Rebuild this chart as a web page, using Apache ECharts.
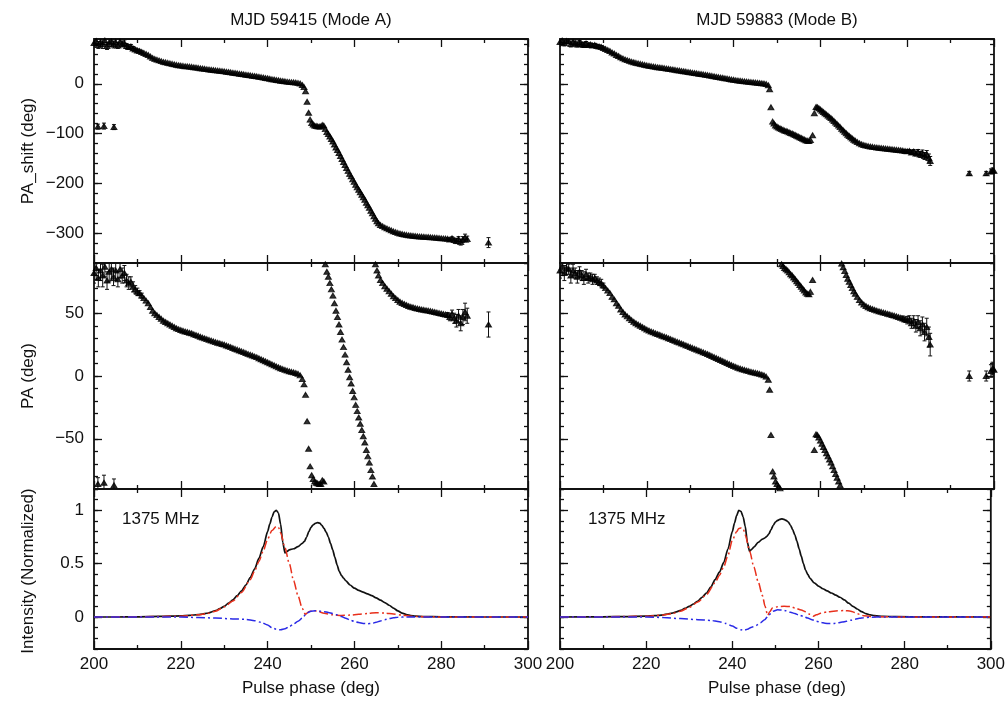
<!DOCTYPE html>
<html>
<head>
<meta charset="utf-8">
<script src="https://cdn.jsdelivr.net/npm/echarts@6/dist/echarts.min.js"></script>
<style>
  html, body { margin: 0; padding: 0; background: #fff; }
  #chart { width: 1008px; height: 706px; }
</style>
</head>
<body>
<div id="chart"></div>
<script>
// ---------------------------------------------------------------------------
// Text
// ---------------------------------------------------------------------------
const columnTitles = ['MJD 59415 (Mode A)', 'MJD 59883 (Mode B)'];
const rowTitles = ['PA_shift (deg)', 'PA (deg)', 'Intensity (Normalized)'];
const xTitle = 'Pulse phase (deg)';
const freqLabel = '1375 MHz';

// Tick values
const phaseRange = [200, 300];
const shiftTicks = [-300, -200, -100, 0];
const paTicks = [-50, 0, 50];
const intensityTicks = [0, 0.5, 1];

// ---------------------------------------------------------------------------
// Position angle (unwrapped, "PA_shift"), rows: [phase, PA_shift, error]
// ---------------------------------------------------------------------------
const shiftModeA = [
  [200, 82, 8], [200.5, 86, 9], [201, 78, 7], [201.5, 84, 8], [202, 80, 9], [202.5, 87, 8],
  [203, 76, 7], [203.5, 83, 8], [204, 85, 9], [204.5, 79, 7], [205, 84, 8], [205.5, 77, 6],
  [206, 85, 7], [206.5, 80, 6], [207, 82, 6], [207.5, 76, 5], [208, 74, 5], [208.5, 75, 4],
  [209, 71, 4], [209.5, 69, 3], [210, 67, 3], [210.5, 66, 2], [211, 64, 2], [211.5, 62],
  [212, 60], [212.5, 58], [213, 55], [213.5, 52], [214, 50], [214.5, 48.5], [215, 47],
  [215.5, 45.5], [216, 44], [216.5, 43], [217, 42], [217.5, 41], [218, 40], [218.5, 39],
  [219, 38], [219.5, 37.3], [220, 36.6], [220.5, 36], [221, 35.4], [221.5, 35], [222, 34.5],
  [222.5, 34], [223, 33.3], [223.5, 32.6], [224, 32], [224.5, 31.3], [225, 30.6], [225.5, 30],
  [226, 29.4], [226.5, 28.8], [227, 28.2], [227.5, 27.6], [228, 27], [228.5, 26.5], [229, 26],
  [229.5, 25.5], [230, 25], [230.5, 24.3], [231, 23.6], [231.5, 23], [232, 22.3], [232.5, 21.6],
  [233, 21], [233.5, 20.3], [234, 19.6], [234.5, 19], [235, 18.3], [235.5, 17.6], [236, 17],
  [236.5, 16.3], [237, 15.6], [237.5, 15], [238, 14.2], [238.5, 13.4], [239, 12.6], [239.5, 11.8],
  [240, 11], [240.5, 10.2], [241, 9.3], [241.5, 8.5], [242, 7.7], [242.5, 7], [243, 6.2],
  [243.5, 5.5], [244, 4.9], [244.5, 4.3], [245, 3.8], [245.5, 3.3], [246, 2.9], [246.5, 2.4],
  [247, 1.8], [247.5, 0.5], [248, -2.5],
  [248.4, -6.7], [248.75, -15], [249.1, -36], [249.45, -58], [249.8, -72], [250.15, -79],
  [250.5, -82], [250.85, -84], [251.2, -85], [251.55, -85.5], [251.9, -86], [252.25, -86],
  [252.6, -83], [252.95, -84], [253.3, -91], [253.65, -97], [254.0, -101], [254.35, -106],
  [254.7, -111], [255.05, -116], [255.4, -122], [255.75, -128], [256.1, -133], [256.45, -139],
  [256.8, -145], [257.15, -151], [257.5, -157], [257.85, -163], [258.2, -169], [258.55, -175],
  [258.9, -181], [259.25, -186], [259.6, -192], [259.95, -197], [260.3, -203], [260.65, -208],
  [261.0, -213], [261.35, -218], [261.7, -223], [262.05, -228], [262.4, -233], [262.75, -239],
  [263.1, -244], [263.45, -249], [263.8, -255], [264.15, -260], [264.5, -266], [264.85, -271],
  [265.2, -276], [265.55, -280],
  [266, -283.5], [266.5, -286], [267, -288.5], [267.5, -290.5], [268, -292.5], [268.5, -294.5],
  [269, -296.5], [269.5, -298], [270, -299.5], [270.5, -300.8], [271, -301.8], [271.5, -302.7],
  [272, -303.5], [272.5, -304.2], [273, -304.8], [273.5, -305.3], [274, -305.8], [274.5, -306.2],
  [275, -306.6], [275.5, -307], [276, -307.3], [276.5, -307.6], [277, -307.9], [277.5, -308.2],
  [278, -308.6], [278.5, -309], [279, -309.4], [279.5, -309.8], [280, -310.2], [280.5, -310.6],
  [281, -311], [281.5, -311.5, 2], [282, -313, 3], [282.5, -310.5, 3], [283, -314, 4],
  [283.5, -316, 5], [284, -312, 5], [284.5, -318, 6], [285, -313, 6], [285.5, -309, 7],
  [286, -312, 6], [290.9, -319, 10],
  // orthogonal-mode points at the leading edge
  [200.9, -86, 5], [202.3, -85, 6], [204.6, -87, 5]
];

const shiftModeB = [
  [200, 84, 6], [200.5, 87, 5], [201, 82, 6], [201.5, 86, 5], [202, 85, 4], [202.5, 80, 6],
  [203, 84, 5], [203.5, 82, 4], [204, 79, 5], [204.5, 83, 4], [205, 80, 4], [205.5, 78, 5],
  [206, 81, 4], [206.5, 78, 4], [207, 79, 3], [207.5, 77, 4], [208, 78, 3], [208.5, 76, 3],
  [209, 75, 3], [209.5, 74, 3], [210, 72, 2], [210.5, 70], [211, 68], [211.5, 66], [212, 63],
  [212.5, 61], [213, 58], [213.5, 56], [214, 53], [214.5, 51], [215, 49], [215.5, 47.5],
  [216, 46], [216.5, 44.5], [217, 43.2], [217.5, 42], [218, 41], [218.5, 40], [219, 39],
  [219.5, 38], [220, 37], [220.5, 36.2], [221, 35.5], [221.5, 34.8], [222, 34], [222.5, 33.4],
  [223, 32.8], [223.5, 32.1], [224, 31.5], [224.5, 30.8], [225, 30.1], [225.5, 29.4], [226, 28.7],
  [226.5, 28], [227, 27.3], [227.5, 26.6], [228, 25.9], [228.5, 25.2], [229, 24.5], [229.5, 23.8],
  [230, 23.1], [230.5, 22.4], [231, 21.7], [231.5, 21], [232, 20.3], [232.5, 19.6], [233, 18.9],
  [233.5, 18.2], [234, 17.5], [234.5, 16.7], [235, 15.9], [235.5, 15.1], [236, 14.3], [236.5, 13.5],
  [237, 12.7], [237.5, 12], [238, 11.2], [238.5, 10.4], [239, 9.6], [239.5, 8.8], [240, 8],
  [240.5, 7.3], [241, 6.6], [241.5, 6], [242, 5.4], [242.5, 4.9], [243, 4.4], [243.5, 3.9],
  [244, 3.4], [244.5, 3], [245, 2.6], [245.5, 2.2], [246, 1.7], [246.5, 1.2], [247, 0.6],
  [247.5, -0.5], [248, -3],
  [248.3, -11], [248.6, -47], [249.0, -76], [249.3, -80], [249.65, -84], [250.0, -86],
  [250.35, -88], [250.7, -89.5], [251.05, -91], [251.4, -92.5], [251.75, -94], [252.1, -95],
  [252.45, -96], [252.8, -97.5], [253.15, -99], [253.5, -100], [253.85, -101.5], [254.2, -103],
  [254.55, -104.5], [254.9, -106], [255.25, -107.5], [255.6, -109], [255.95, -110.5], [256.3, -112],
  [256.65, -113.5], [257.0, -114.5], [257.35, -115], [257.7, -113], [258.2, -103.5], [258.6, -59],
  [259.0, -46.5], [259.3, -47], [259.65, -49], [260.0, -51.5], [260.35, -54], [260.7, -56.5],
  [261.05, -59], [261.4, -61.5], [261.75, -64], [262.1, -66.5], [262.45, -69], [262.8, -72],
  [263.15, -75], [263.5, -78], [263.85, -81], [264.2, -84], [264.55, -87], [264.9, -90.5],
  [265.25, -93.5], [265.6, -96.5], [265.95, -99.5], [266.3, -102.5], [266.65, -105], [267.0, -107.5],
  [267.35, -110], [267.7, -112.5], [268.05, -114.5],
  [268.5, -117], [269, -119.5], [269.5, -121.5], [270, -123], [270.5, -124.2], [271, -125.2],
  [271.5, -126], [272, -126.7], [272.5, -127.3], [273, -127.9], [273.5, -128.4], [274, -128.9],
  [274.5, -129.4], [275, -129.9], [275.5, -130.4], [276, -130.9], [276.5, -131.4], [277, -131.9],
  [277.5, -132.4], [278, -133], [278.5, -133.6], [279, -134.2, 2], [279.5, -135, 2], [280, -135.5, 3],
  [280.5, -135, 3], [281, -138, 4], [281.5, -136, 4], [282, -140, 5], [282.5, -137, 5],
  [283, -142, 6], [283.5, -139, 6], [284, -145, 7], [284.5, -141, 7], [285, -149, 8],
  [285.3, -155, 9],
  [294.3, -180, 4], [298.2, -180, 4], [299.3, -176, 5], [299.7, -174, 5], [300, -175, 4]
];

// ---------------------------------------------------------------------------
// Normalised profiles, rows: [phase, value]
// ---------------------------------------------------------------------------
const totalModeA = [
  [200, 0], [205, 0], [210, 0.002], [215, 0.005], [220, 0.01], [222, 0.015], [224, 0.022],
  [225, 0.027], [226, 0.035], [227, 0.046], [228, 0.06], [229, 0.078], [230, 0.1], [231, 0.13],
  [232, 0.16], [233, 0.2], [234, 0.245], [235, 0.3], [236, 0.37], [237, 0.45], [238, 0.55],
  [239, 0.66], [240, 0.8], [240.5, 0.87], [241, 0.935], [241.5, 0.985], [242, 1.0], [242.5, 0.975],
  [243, 0.87], [243.5, 0.7], [244, 0.6], [244.5, 0.615], [245, 0.63], [246, 0.64], [247, 0.66],
  [248, 0.69], [248.5, 0.71], [249, 0.75], [249.5, 0.8], [250, 0.84], [250.5, 0.865], [251, 0.878],
  [251.5, 0.885], [252, 0.88], [252.5, 0.86], [253, 0.83], [253.5, 0.795], [254, 0.75], [254.5, 0.69],
  [255, 0.63], [255.5, 0.56], [256, 0.49], [256.5, 0.43], [257, 0.39], [257.5, 0.365], [258, 0.34],
  [259, 0.3], [260, 0.27], [261, 0.25], [262, 0.233], [263, 0.217], [264, 0.2], [265, 0.18],
  [266, 0.158], [267, 0.135], [268, 0.11], [269, 0.083], [270, 0.058], [271, 0.037], [272, 0.022],
  [273, 0.013], [274, 0.008], [276, 0.004], [280, 0.002], [290, 0], [300, 0]
];
const linearModeA = [
  [200, 0], [210, 0.002], [220, 0.008], [224, 0.02], [226, 0.032], [228, 0.055], [230, 0.095],
  [232, 0.15], [234, 0.23], [236, 0.35], [237, 0.43], [238, 0.52], [239, 0.62], [240, 0.73],
  [241, 0.81], [242, 0.85], [242.5, 0.84], [243, 0.79], [244, 0.65], [245, 0.5], [246, 0.34],
  [247, 0.2], [248, 0.08], [248.7, 0.025], [249.5, 0.05], [250.5, 0.06], [251.5, 0.055],
  [253, 0.035], [255, 0.02], [257, 0.015], [259, 0.018], [261, 0.025], [263, 0.033], [265, 0.04],
  [267, 0.037], [269, 0.028], [271, 0.018], [273, 0.008], [276, 0.003], [280, 0], [300, 0]
];
const circularModeA = [
  [200, 0], [220, 0], [224, -0.005], [228, -0.01], [232, -0.018], [235, -0.022], [237, -0.035],
  [238.5, -0.05], [240, -0.075], [241, -0.1], [242, -0.115], [243, -0.12], [244, -0.11],
  [245, -0.09], [246, -0.065], [247, -0.04], [248, -0.01], [249, 0.035], [250, 0.055], [251, 0.058],
  [252, 0.055], [253, 0.05], [254, 0.042], [255, 0.032], [256, 0.02], [257, 0.005], [258, -0.012],
  [259, -0.028], [260, -0.042], [261, -0.052], [262, -0.06], [263, -0.063], [264, -0.06],
  [265, -0.05], [266, -0.037], [267, -0.025], [268, -0.015], [269, -0.007], [270, -0.002],
  [272, 0], [300, 0]
];
const totalModeB = [
  [200, 0], [210, 0.002], [215, 0.004], [220, 0.008], [222, 0.012], [224, 0.02], [225, 0.028],
  [226, 0.037], [227, 0.048], [228, 0.062], [229, 0.08], [230, 0.1], [231, 0.122], [232, 0.15],
  [233, 0.185], [234, 0.225], [235, 0.28], [236, 0.35], [237, 0.42], [238, 0.51], [239, 0.64],
  [240, 0.8], [240.5, 0.88], [241, 0.95], [241.5, 1.0], [242, 0.99], [242.5, 0.94], [243, 0.85],
  [243.5, 0.7], [244, 0.615], [244.5, 0.635], [245, 0.655], [246, 0.7], [247, 0.73], [247.5, 0.74],
  [248, 0.755], [248.5, 0.78], [249, 0.82], [249.5, 0.86], [250, 0.89], [250.5, 0.905], [251, 0.915],
  [251.5, 0.92], [252, 0.915], [252.5, 0.905], [253, 0.89], [253.5, 0.86], [254, 0.82], [254.5, 0.77],
  [255, 0.71], [255.5, 0.64], [256, 0.57], [256.5, 0.5], [257, 0.44], [257.5, 0.4], [258, 0.365],
  [259, 0.32], [260, 0.29], [261, 0.265], [262, 0.245], [263, 0.225], [264, 0.205], [265, 0.185],
  [266, 0.16], [267, 0.13], [268, 0.1], [269, 0.075], [270, 0.05], [271, 0.032], [272, 0.02],
  [273, 0.012], [275, 0.006], [278, 0.003], [285, 0.001], [300, 0]
];
const linearModeB = [
  [200, 0], [210, 0.002], [220, 0.007], [224, 0.018], [226, 0.032], [228, 0.055], [230, 0.09],
  [232, 0.14], [234, 0.21], [236, 0.32], [237, 0.39], [238, 0.47], [239, 0.58], [240, 0.72],
  [241, 0.8], [241.5, 0.83], [242, 0.835], [242.5, 0.83], [243, 0.77], [244, 0.62], [245, 0.47],
  [246, 0.33], [247, 0.2], [247.6, 0.1], [248.2, 0.015], [248.7, 0.05], [249.3, 0.085],
  [250.5, 0.095], [252, 0.1], [253.5, 0.098], [254.5, 0.085], [256, 0.065], [257, 0.05],
  [258, 0.025], [258.8, 0.008], [259.5, 0.02], [260.5, 0.035], [262, 0.048], [264, 0.057],
  [266, 0.06], [267.5, 0.055], [268.5, 0.042], [269.5, 0.025], [270.5, 0.012], [272, 0.005],
  [275, 0.002], [280, 0], [300, 0]
];
const circularModeB = [
  [200, 0], [220, 0], [224, -0.005], [228, -0.015], [232, -0.025], [235, -0.032], [237, -0.045],
  [238.5, -0.06], [240, -0.085], [241, -0.105], [242, -0.12], [242.7, -0.125], [243.5, -0.115],
  [244.5, -0.095], [245.5, -0.08], [246.5, -0.055], [247.5, -0.025], [248.5, 0.02], [249.5, 0.055],
  [250.5, 0.068], [251.5, 0.065], [252.5, 0.058], [253.5, 0.045], [254.5, 0.032], [255.5, 0.018],
  [256.5, 0.005], [257.5, -0.01], [258.5, -0.025], [259.5, -0.04], [260.5, -0.05], [261.5, -0.058],
  [262.5, -0.062], [263.5, -0.06], [264.5, -0.055], [265.5, -0.048], [266.5, -0.04], [267.5, -0.03],
  [268.5, -0.02], [269.5, -0.012], [270.5, -0.006], [272, -0.002], [275, 0], [300, 0]
];

// ---------------------------------------------------------------------------
// Styling and layout
// ---------------------------------------------------------------------------
const FONT = 'Liberation Sans';
const INK = '#111111';
const RED = '#e8301c';
const BLUE = '#2a2ae6';
const columns = [
  { left: 94, shift: shiftModeA, I: totalModeA, L: linearModeA, V: circularModeA },
  { left: 560, shift: shiftModeB, I: totalModeB, L: linearModeB, V: circularModeB }
];
const plotWidth = 434;
const rows = [
  { top: 39, height: 224, min: -360, max: 90, minor: 20, major: shiftTicks, titleY: 151 },
  { top: 263, height: 226, min: -90, max: 90, minor: 10, major: paTicks, titleY: 376 },
  { top: 489, height: 160, min: -0.3, max: 1.2, minor: 0.1, major: intensityTicks, titleY: 571 }
];

const labelText = { color: INK, fontFamily: FONT, fontSize: 17 };
const tickLine = { color: INK, width: 1.3 };
const hiddenLine = { show: false, onZero: false };
const minusSign = v => String(v).replace('-', '\u2212');

// PA is only defined modulo 180 deg: fold into (-90, 90]
function foldPA(v) {
  let w = v;
  while (w > 90) w -= 180;
  while (w <= -90) w += 180;
  return w;
}

function xAxisFor(gridIndex, position, withLabels) {
  return {
    type: 'value', gridIndex, position,
    min: phaseRange[0], max: phaseRange[1], interval: 20,
    axisLine: hiddenLine,
    splitLine: { show: false },
    axisTick: { show: true, inside: true, length: 8, lineStyle: tickLine },
    minorTick: { show: true, splitNumber: 2, length: 4, lineStyle: tickLine },
    axisLabel: Object.assign({ show: withLabels, margin: 7 }, labelText)
  };
}
function yMajorAxis(gridIndex, position, row, withLabels) {
  return {
    type: 'value', gridIndex, position, min: row.min, max: row.max,
    axisLine: hiddenLine,
    splitLine: { show: false },
    axisTick: { show: true, inside: true, length: 8, customValues: row.major, lineStyle: tickLine },
    axisLabel: Object.assign({
      show: withLabels, margin: 10, customValues: row.major, formatter: minusSign
    }, labelText)
  };
}
function yMinorAxis(gridIndex, position, row) {
  return {
    type: 'value', gridIndex, position, min: row.min, max: row.max, interval: row.minor,
    axisLine: hiddenLine,
    splitLine: { show: false },
    axisTick: { show: true, inside: true, length: 4, lineStyle: tickLine },
    axisLabel: { show: false }
  };
}

function errorBars(xAxisIndex, yAxisIndex, rowsWithErr) {
  return {
    type: 'custom', xAxisIndex, yAxisIndex, clip: true, silent: true,
    data: rowsWithErr,
    encode: { x: 0, y: 1 },
    renderItem: function (params, api) {
      const x = api.value(0), y = api.value(1), e = api.value(2);
      const hi = api.coord([x, y + e]);
      const lo = api.coord([x, y - e]);
      const st = { stroke: INK, lineWidth: 1 };
      return {
        type: 'group',
        children: [
          { type: 'line', shape: { x1: hi[0], y1: hi[1], x2: lo[0], y2: lo[1] }, style: st },
          { type: 'line', shape: { x1: hi[0] - 2, y1: hi[1], x2: hi[0] + 2, y2: hi[1] }, style: st },
          { type: 'line', shape: { x1: lo[0] - 2, y1: lo[1], x2: lo[0] + 2, y2: lo[1] }, style: st }
        ]
      };
    }
  };
}
function triangles(xAxisIndex, yAxisIndex, points) {
  return {
    type: 'scatter', xAxisIndex, yAxisIndex, data: points,
    symbol: 'triangle', symbolSize: [6, 5],
    itemStyle: { color: '#000', borderColor: '#000', borderWidth: 1 },
    silent: true
  };
}
function profile(xAxisIndex, yAxisIndex, points, color, dash, width) {
  return {
    type: 'line', xAxisIndex, yAxisIndex, data: points,
    showSymbol: false, smooth: 0.25, smoothMonotone: 'x',
    lineStyle: { color, width, type: dash },
    silent: true
  };
}

const grid = [], xAxis = [], yAxis = [], series = [], graphic = [];

columns.forEach(function (col, c) {
  const idx = [];
  rows.forEach(function (row, r) {
    const g = grid.length;
    grid.push({
      left: col.left, top: row.top, width: plotWidth, height: row.height,
      show: true, borderColor: INK, borderWidth: 1.8, backgroundColor: 'transparent'
    });
    const xi = xAxis.length;
    xAxis.push(xAxisFor(g, 'bottom', r === 2));
    xAxis.push(xAxisFor(g, 'top', false));
    const yi = yAxis.length;
    yAxis.push(yMajorAxis(g, 'left', row, c === 0));
    yAxis.push(yMinorAxis(g, 'left', row));
    yAxis.push(yMajorAxis(g, 'right', row, false));
    yAxis.push(yMinorAxis(g, 'right', row));
    idx.push({ x: xi, y: yi });
  });

  // PA_shift panel
  const shiftPts = col.shift.map(d => [d[0], d[1]]);
  const shiftErr = col.shift.filter(d => d.length > 2).map(d => [d[0], d[1], d[2]]);
  series.push(errorBars(idx[0].x, idx[0].y, shiftErr));
  series.push(triangles(idx[0].x, idx[0].y, shiftPts));

  // PA panel (same measurements folded into the +/-90 deg range)
  const paPts = col.shift.map(d => [d[0], foldPA(d[1])]);
  const paErr = col.shift.filter(d => d.length > 2).map(d => [d[0], foldPA(d[1]), d[2]]);
  series.push(errorBars(idx[1].x, idx[1].y, paErr));
  series.push(triangles(idx[1].x, idx[1].y, paPts));

  // Intensity panel
  series.push(profile(idx[2].x, idx[2].y, col.I, INK, 'solid', 1.7));
  series.push(profile(idx[2].x, idx[2].y, col.L, RED, [9, 3, 2, 3], 1.5));
  series.push(profile(idx[2].x, idx[2].y, col.V, BLUE, [9, 3, 2, 3], 1.5));

  const cx = col.left + plotWidth / 2;
  graphic.push({
    type: 'text', x: cx, y: 20, silent: true,
    style: { text: columnTitles[c], fill: INK, fontFamily: FONT, fontSize: 17, align: 'center', verticalAlign: 'middle' }
  });
  graphic.push({
    type: 'text', x: cx, y: 688, silent: true,
    style: { text: xTitle, fill: INK, fontFamily: FONT, fontSize: 17, align: 'center', verticalAlign: 'middle' }
  });
  graphic.push({
    type: 'text', x: col.left + 28, y: 519, silent: true,
    style: { text: freqLabel, fill: INK, fontFamily: FONT, fontSize: 17, align: 'left', verticalAlign: 'middle' }
  });
});

rows.forEach(function (row, r) {
  graphic.push({
    type: 'text', x: 28, y: row.titleY, rotation: Math.PI / 2, silent: true,
    style: { text: rowTitles[r], fill: INK, fontFamily: FONT, fontSize: 17, align: 'center', verticalAlign: 'middle' }
  });
});

const chart = echarts.init(document.getElementById('chart'), null, { renderer: 'canvas' });
chart.setOption({
  animation: false,
  backgroundColor: '#ffffff',
  grid, xAxis, yAxis, series, graphic
});
</script>
</body>
</html>
